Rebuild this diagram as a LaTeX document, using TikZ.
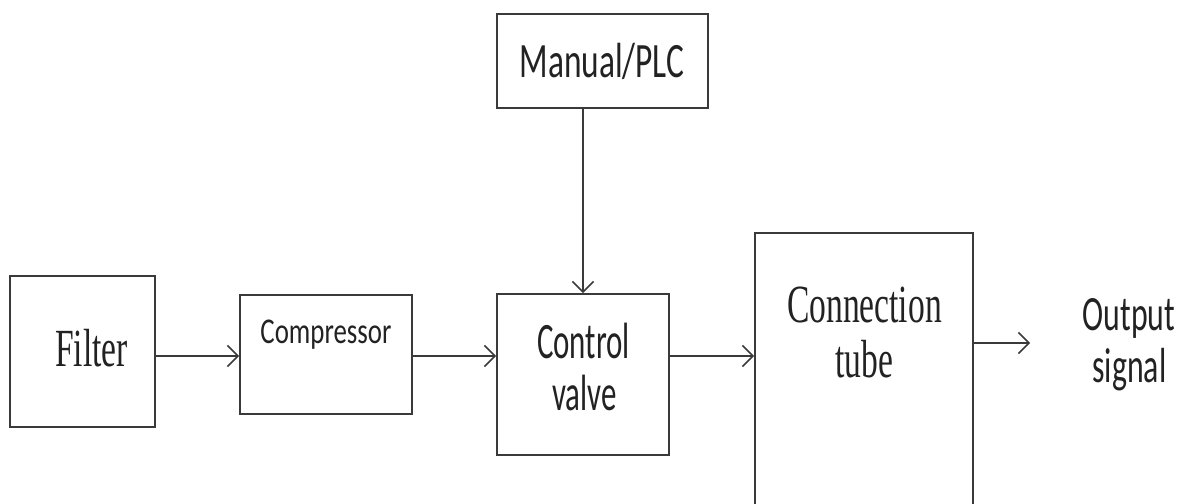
\documentclass[tikz,border=0pt]{standalone}
\usepackage{fontspec}
\usepackage{graphicx}
\setmainfont{Liberation Serif}
\newfontfamily\calib{Carlito}
\usetikzlibrary{arrows.meta}
\definecolor{ln}{HTML}{3A3A3A}
\definecolor{tx}{HTML}{222222}
\begin{document}
\begin{tikzpicture}[x=0.02cm,y=-0.02cm,
  box/.style={draw=ln,line width=1pt,inner sep=0pt,fill=white},
  arr/.style={draw=ln,line width=0.9pt,-{Straight Barb[length=6pt,width=12pt]}},
  lbl/.style={anchor=base,inner sep=0pt,text=tx}]
\useasboundingbox (0,0) rectangle (1188,504);
\clip (0,0) rectangle (1188,504);
\fill[white] (0,0) rectangle (1188,504);
% boxes
\node[box,minimum width=2.9cm,minimum height=3.02cm] (filter) at (82.5,351.5) {};
\node[box,minimum width=3.44cm,minimum height=2.38cm] (comp) at (326,354.5) {};
\node[box,minimum width=4.22cm,minimum height=1.88cm] (man) at (602.5,61) {};
\node[box,minimum width=3.44cm,minimum height=3.22cm] (ctl) at (583,374.5) {};
\node[box,minimum width=4.36cm,minimum height=5.64cm] (tube) at (864,374) {};
% labels
\node[lbl] (tfilter) at (91.5,366) {\fontsize{19.1pt}{19pt}\selectfont\scalebox{1}[1.6]{Filter}};
\node[lbl] (tcomp) at (326,343) {\calib\fontsize{15.3pt}{15pt}\selectfont\scalebox{1}[1.35]{Compressor}};
\node[lbl] (tman) at (602,77) {\calib\fontsize{19pt}{19pt}\selectfont\scalebox{1}[1.48]{Manual/PLC}};
\node[lbl] (tctl1) at (583.5,358) {\calib\fontsize{17.6pt}{17pt}\selectfont\scalebox{1}[1.65]{Control}};
\node[lbl] (tctl2) at (584.5,410) {\calib\fontsize{17.6pt}{17pt}\selectfont\scalebox{1}[1.65]{valve}};
\node[lbl] (ttube1) at (864.5,322) {\fontsize{19.1pt}{19pt}\selectfont\scalebox{1}[1.6]{Connection}};
\node[lbl] (ttube2) at (864,377) {\fontsize{19.1pt}{19pt}\selectfont\scalebox{1}[1.6]{tube}};
\node[lbl] (tout1) at (1129,330) {\calib\fontsize{18.1pt}{18pt}\selectfont\scalebox{1}[1.55]{Output}};
\node[lbl] (tout2) at (1129.5,382) {\calib\fontsize{18.1pt}{18pt}\selectfont\scalebox{1}[1.55]{signal}};
% connectors
\coordinate (r1) at (0,356);
\coordinate (r2) at (0,343);
\coordinate (out) at (1030,343);
\draw[arr] (filter.east |- r1) -- (comp.west |- r1);
\draw[arr] (comp.east |- r1) -- (ctl.west |- r1);
\draw[arr] (ctl.east |- r1) -- (tube.west |- r1);
\draw[arr] (tube.east |- r2) -- (out);
\draw[arr] (man.south -| ctl.north) -- (ctl.north);
\end{tikzpicture}
\end{document}
